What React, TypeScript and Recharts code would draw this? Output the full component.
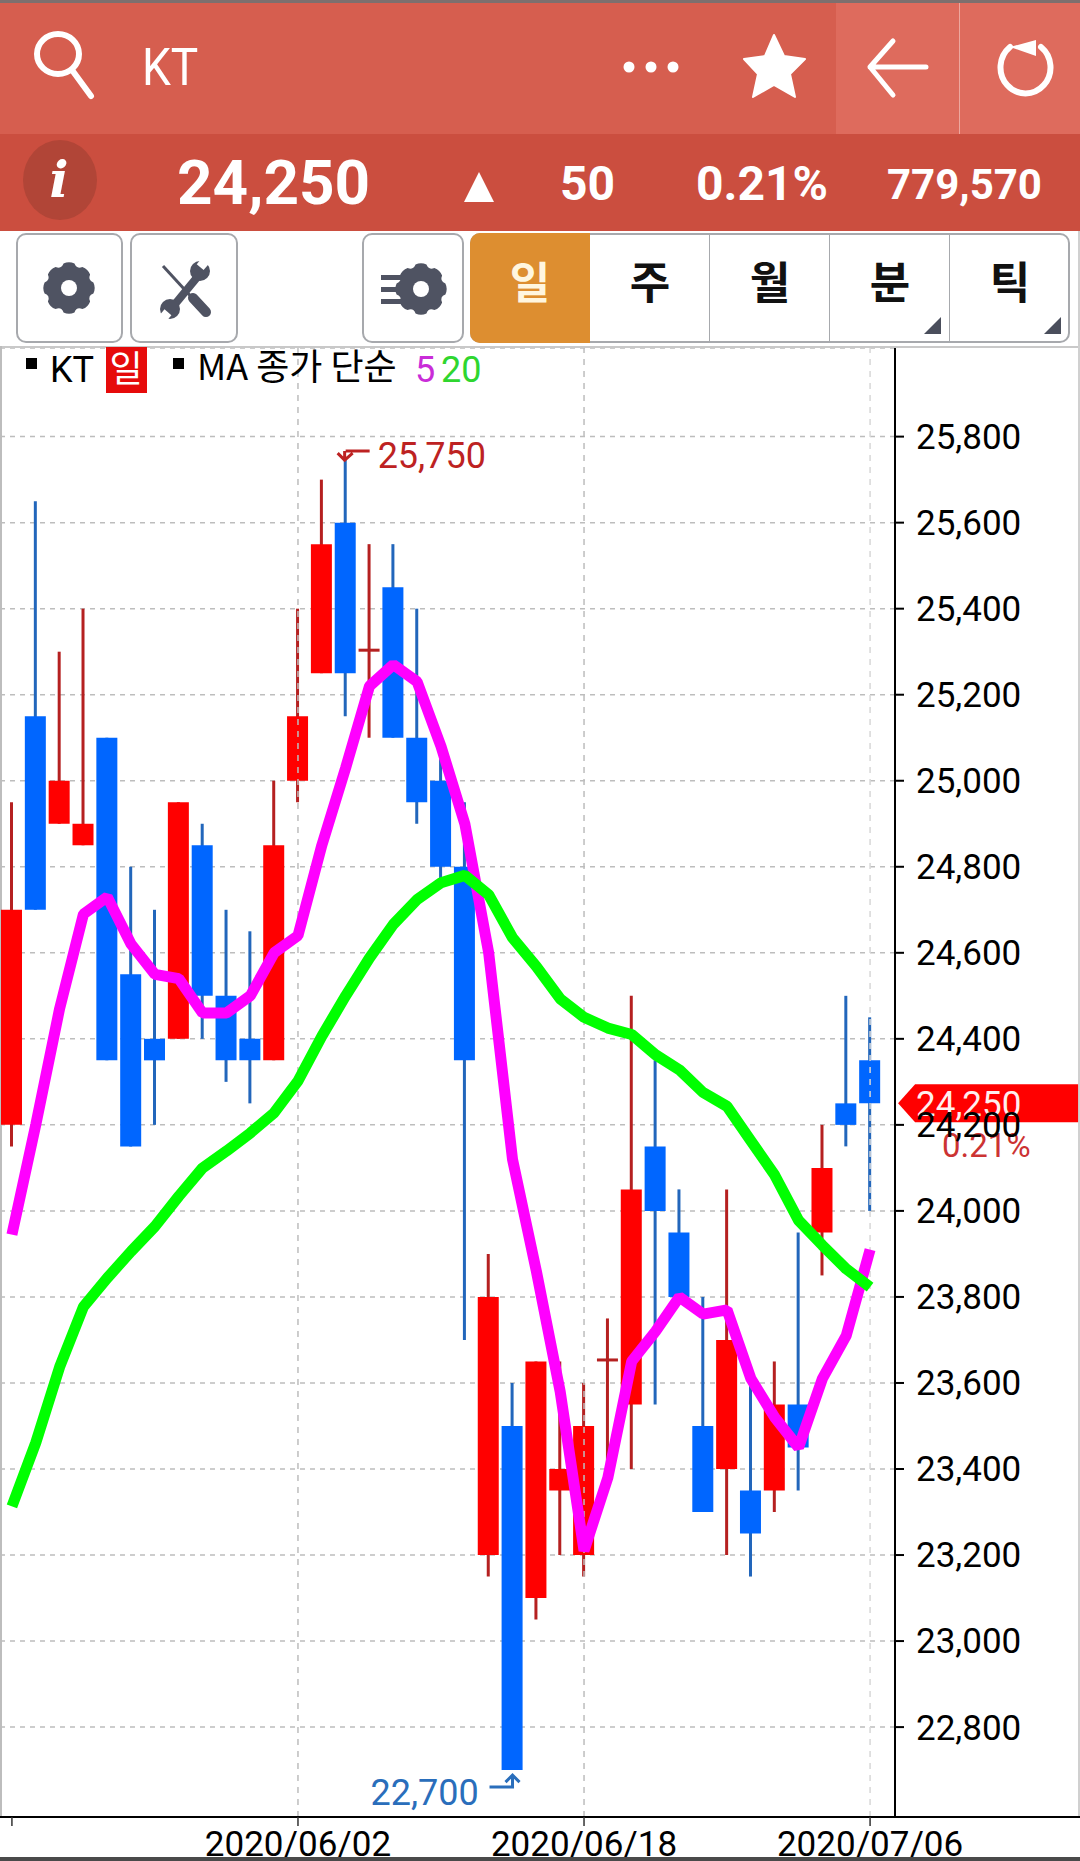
import React from 'react';
import { ComposedChart, Bar, Line, XAxis, YAxis, CartesianGrid, Cell, ReferenceLine, ReferenceDot } from 'recharts';

const dates = [
    '2020/05/15', '2020/05/18', '2020/05/19', '2020/05/20', '2020/05/21', '2020/05/22', '2020/05/25', '2020/05/26',
    '2020/05/27', '2020/05/28', '2020/05/29', '2020/06/01', '2020/06/02', '2020/06/03', '2020/06/04', '2020/06/05',
    '2020/06/08', '2020/06/09', '2020/06/10', '2020/06/11', '2020/06/12', '2020/06/15', '2020/06/16', '2020/06/17',
    '2020/06/18', '2020/06/19', '2020/06/22', '2020/06/23', '2020/06/24', '2020/06/25', '2020/06/26', '2020/06/29',
    '2020/06/30', '2020/07/01', '2020/07/02', '2020/07/03', '2020/07/06',
];
const opens = [
    24200, 25150, 24900, 24850, 25100, 24550, 24400, 24400, 24850, 24500, 24400, 24350, 25000, 25250, 25600, 25300, 25450,
    25100, 25000, 24800, 23200, 23500, 23100, 23350, 23200, 23650, 23550, 24150, 23950, 23500, 23400, 23350, 23350, 23550,
    23950, 24250, 24350,
];
const closes = [
    24700, 24700, 25000, 24900, 24350, 24150, 24350, 24950, 24500, 24350, 24350, 24850, 25150, 25550, 25250, 25300, 25100,
    24950, 24800, 24350, 23800, 22700, 23650, 23400, 23500, 23650, 24050, 24000, 23800, 23300, 23700, 23250, 23550, 23450,
    24100, 24200, 24250,
];
const highs = [
    24950, 25650, 25300, 25400, 25100, 24800, 24700, 24950, 24900, 24700, 24650, 25000, 25400, 25700, 25750, 25550, 25550,
    25400, 25050, 24950, 23900, 23600, 23650, 23650, 23600, 23750, 24500, 24350, 24050, 23800, 24050, 23600, 23650, 23950,
    24200, 24500, 24450,
];
const lows = [
    24150, 24700, 24900, 24850, 24350, 24150, 24200, 24400, 24400, 24300, 24250, 24350, 24950, 25250, 25150, 25100, 25100,
    24900, 24750, 23700, 23150, 22700, 23050, 23200, 23150, 23350, 23400, 23550, 23800, 23300, 23200, 23150, 23300, 23350,
    23850, 24150, 24000,
];
const ma5 = [
    23945, 24200, 24470, 24690, 24730, 24620, 24550, 24540, 24460, 24460, 24500, 24600, 24640, 24850, 25030, 25220, 25270,
    25230, 25080, 24900, 24600, 24120, 23860, 23580, 23210, 23380, 23650, 23720, 23800, 23760, 23770, 23610, 23520, 23450,
    23610, 23710, 23910,
];
const ma20 = [
    23313, 23461, 23637, 23777, 23844, 23906, 23964, 24034, 24100, 24139, 24181, 24228, 24302, 24406, 24500, 24588, 24666,
    24724, 24763, 24780, 24735, 24635, 24568, 24493, 24450, 24425, 24410, 24363, 24328, 24275, 24243, 24163, 24083, 23978,
    23920, 23865, 23823,
];

const priceTicks = [25800, 25600, 25400, 25200, 25000, 24800, 24600, 24400, 24200, 24000, 23800, 23600, 23400, 23200, 23000, 22800];
const firstDate = '2020/05/15';
const labelledDates = ['2020/06/02', '2020/06/18', '2020/07/06'];
const priceDomain = [22591, 26006];

const HIGH_PRICE = 25750;
const LOW_PRICE = 22700;
const LAST_PRICE = 24250;

const chartData = dates.map((date, i) => ({
    date,
    body: [opens[i], closes[i]],
    wick: [lows[i], highs[i]],
    ma5: ma5[i],
    ma20: ma20[i],
    up: closes[i] >= opens[i],
}));

const SANS = 'Roboto, "Noto Sans CJK KR", sans-serif';
const KR = '"Noto Sans CJK KR", Roboto, sans-serif';

function box(left: number, top: number, width: number, height: number, style: React.CSSProperties = {}): React.CSSProperties {
    return { position: 'absolute', left, top, width, height, ...style };
}

function Txt({ x, y, size, color = '#fff', bold = false, font = SANS, children, center = false, sy = 1 }: any) {
    return (
        <div
            style={{
                position: 'absolute',
                left: x,
                top: y,
                fontFamily: font,
                fontSize: size,
                lineHeight: 1,
                color,
                whiteSpace: 'pre',
                fontWeight: bold ? 700 : 400,
                transform: `${center ? 'translateX(-50%) ' : ''}scaleY(${sy})`,
                transformOrigin: 'top left',
            }}
        >
            {children}
        </div>
    );
}

function gearPath(cx: number, cy: number, r: number) {
    // scalloped outer edge with 8 lobes
    let d = '';
    for (let i = 0; i < 8; i++) {
        const a = (i * Math.PI) / 4 - Math.PI / 2;
        const b = a + Math.PI / 8;
        const c = a + Math.PI / 4;
        const ax = cx + r * Math.cos(a - 0.22);
        const ay = cy + r * Math.sin(a - 0.22);
        const tx = cx + r * 1.08 * Math.cos(a);
        const ty = cy + r * 1.08 * Math.sin(a);
        const ex = cx + r * Math.cos(a + 0.22);
        const ey = cy + r * Math.sin(a + 0.22);
        const vx = cx + r * 0.8 * Math.cos(b);
        const vy = cy + r * 0.8 * Math.sin(b);
        const nx = cx + r * Math.cos(c - 0.22);
        const ny = cy + r * Math.sin(c - 0.22);
        d += `${i === 0 ? 'M' : 'L'}${ax} ${ay} Q${tx} ${ty} ${ex} ${ey} Q${vx} ${vy} ${nx} ${ny} `;
    }
    return d + 'Z';
}

function Header() {
    return (
        <>
            <div style={box(0, 0, 1080, 3, { background: '#7d6f6e' })} />
            <div style={box(0, 3, 1080, 131, { background: '#d65e4f' })} />
            <div style={box(836, 3, 244, 131, { background: '#de6b5d' })} />
            <div style={box(959, 3, 1, 131, { background: '#eda79e' })} />
            <div style={box(0, 134, 1080, 97, { background: '#cb4e3f' })} />
            <svg width={1080} height={231} style={box(0, 0, 1080, 231)}>
                <ellipse cx={58} cy={54} rx={21} ry={20} fill="none" stroke="#fff" strokeWidth={6} />
                <line x1={72} y1={70} x2={91} y2={96} stroke="#fff" strokeWidth={6} strokeLinecap="round" />
                <circle cx={629} cy={67} r={5.5} fill="#fff" />
                <circle cx={651} cy={67} r={5.5} fill="#fff" />
                <circle cx={673} cy={67} r={5.5} fill="#fff" />
                <polygon
                    points="774,35 784,56 805,59 790,74 795,97 774,85 753,97 758,74 744,59 765,56"
                    fill="#fff"
                    stroke="#fff"
                    strokeWidth={2}
                    strokeLinejoin="round"
                />
                <path d="M893 41 L870 67 L893 95 M870 67 L926 67" fill="none" stroke="#fff" strokeWidth={5} strokeLinecap="round" strokeLinejoin="round" />
                <path d="M1010 47 A25 26 0 1 0 1041 47" fill="none" stroke="#fff" strokeWidth={6} strokeLinecap="round" />
                <path d="M1010 47 L1036 40 L1036 56 Z" fill="#fff" />
                <ellipse cx={60} cy={180} rx={37} ry={40} fill="#b14537" />
                <polygon points="464,202 494,202 479,172" fill="#fff" />
            </svg>
            <Txt x={142} y={41} size={46} sy={1.12}>KT</Txt>
            <Txt x={59} y={155} size={50} font='"DejaVu Serif", serif' center><i style={{ fontWeight: 700 }}>i</i></Txt>
            <Txt x={177} y={152} size={62} bold>24,250</Txt>
            <Txt x={560} y={160} size={48} bold>50</Txt>
            <Txt x={696} y={160} size={48} bold>0.21%</Txt>
            <Txt x={887} y={164} size={42} bold>779,570</Txt>
        </>
    );
}

function Toolbar() {
    const btnBorder = '2px solid #a7a9ad';
    const tabs = ['일', '주', '월', '분', '틱'];
    const centers = [530, 650, 770, 890, 1010];
    return (
        <>
            <div style={box(16, 233, 107, 110, { border: btnBorder, borderRadius: 10, boxSizing: 'border-box' })} />
            <div style={box(130, 233, 108, 110, { border: btnBorder, borderRadius: 10, boxSizing: 'border-box' })} />
            <div style={box(362, 233, 102, 110, { border: btnBorder, borderRadius: 10, boxSizing: 'border-box' })} />
            <div style={box(470, 233, 600, 110, { border: btnBorder, borderRadius: 10, boxSizing: 'border-box' })} />
            <div style={box(470, 233, 120, 110, { background: '#dd8e30', borderRadius: '10px 0 0 10px' })} />
            {[709, 829, 949].map((x) => (
                <div key={x} style={box(x, 233, 1, 110, { background: '#a7a9ad' })} />
            ))}
            <svg width={1080} height={350} style={box(0, 0, 1080, 350)}>
                <path d={gearPath(69, 288, 25)} fill="#4f5362" />
                <circle cx={69} cy={288} r={8} fill="#fff" />
                <path d={gearPath(421, 289, 25)} fill="#4f5362" />
                <circle cx={421} cy={289} r={8} fill="#fff" />
                <rect x={381} y={275} width={21} height={5} fill="#4f5362" />
                <rect x={381} y={287} width={17} height={5} fill="#4f5362" />
                <rect x={381} y={299} width={21} height={5} fill="#4f5362" />
                <line x1={163} y1={266} x2={196} y2={302} stroke="#4f5362" strokeWidth={3} />
                <line x1={193} y1={298} x2={206} y2={312} stroke="#4f5362" strokeWidth={10} strokeLinecap="round" />
                <line x1={171} y1={309} x2={199} y2={275} stroke="#4f5362" strokeWidth={8} />
                <circle cx={200} cy={271} r={10} fill="#4f5362" />
                <circle cx={170} cy={309} r={10} fill="#4f5362" />
                <rect x={199} y={259} width={9} height={9} fill="#fff" transform="rotate(40 203 263)" />
                <rect x={161} y={311} width={9} height={9} fill="#fff" transform="rotate(40 165 315)" />
                <polygon points="924,334 941,334 941,317" fill="#4a4e5c" />
                <polygon points="1044,334 1061,334 1061,317" fill="#4a4e5c" />
            </svg>
            {tabs.map((t, i) => (
                <Txt key={t} x={centers[i]} y={258} size={44} bold font={KR} center color={i === 0 ? '#fff6df' : '#111'}>
                    {t}
                </Txt>
            ))}
        </>
    );
}

function ChartLegend() {
    return (
        <>
            <div style={box(26, 358, 11, 11, { background: '#000' })} />
            <Txt x={50} y={352} size={36} color="#000">KT</Txt>
            <div style={box(106, 347, 41, 46, { background: '#e60b0b' })} />
            <Txt x={126} y={348} size={36} font={KR} center color="#fff">일</Txt>
            <div style={box(173, 358, 11, 11, { background: '#000' })} />
            <Txt x={197} y={346} size={36} font={KR} color="#000">MA 종가 단순</Txt>
            <Txt x={415} y={352} size={36} color="#c92cd8">5</Txt>
            <Txt x={441} y={352} size={36} color="#2fd62f">20</Txt>
        </>
    );
}

function HighMark({ cx, cy }: any) {
    return (
        <g>
            <path
                d={`M${cx + 24} ${cy - 7} L${cx} ${cy - 7} M${cx - 8} ${cy - 5} L${cx - 1} ${cy + 2} L${cx + 7} ${cy - 5} M${cx - 1} ${cy + 2} L${cx - 1} ${cy - 7}`}
                fill="none"
                stroke="#bd2222"
                strokeWidth={3}
            />
            <text x={cx + 32} y={cy + 10} fontFamily={SANS} fontSize={36} fill="#bd2222">25,750</text>
        </g>
    );
}

function LowMark({ cx, cy }: any) {
    return (
        <g>
            <path
                d={`M${cx - 23} ${cy + 17} L${cx} ${cy + 17} L${cx} ${cy + 5} M${cx - 7} ${cy + 12} L${cx} ${cy + 5} L${cx + 7} ${cy + 12}`}
                fill="none"
                stroke="#2a6ebb"
                strokeWidth={3}
            />
            <text x={cx - 142} y={cy + 35} fontFamily={SANS} fontSize={36} fill="#2a6ebb">22,700</text>
        </g>
    );
}

function LastPriceTag({ cx, cy }: any) {
    const ox = cx + 28;
    return (
        <g>
            <polygon points={`${ox},${cy} ${ox + 17},${cy - 19} ${ox + 180},${cy - 19} ${ox + 180},${cy + 19} ${ox + 17},${cy + 19}`} fill="#ff0000" />
            <text x={ox + 18} y={cy + 13} fontFamily={SANS} fontSize={35} fill="#ffeeee">24,250</text>
            <text x={ox + 44} y={cy + 54} fontFamily={SANS} fontSize={33} fill="#cc3333">0.21%</text>
        </g>
    );
}

export default function App() {
    return (
        <div style={{ position: 'absolute', left: 0, top: 0, width: 1080, height: 1861, overflow: 'hidden', background: '#fff' }}>
            <Header />
            <Toolbar />
            <div style={box(0, 346, 1080, 2, { background: '#c9c9c9' })} />
            <div style={box(0, 346, 2, 1471, { background: '#bdbdbd' })} />
            <div style={box(1078, 231, 2, 1586, { background: '#d0d0d0' })} />
            <div style={box(0, 1816, 1080, 2, { background: '#000' })} />
            <div style={box(0, 1857, 1080, 4, { background: '#4a4a4a' })} />

            <div style={box(0, 348, 1080, 1509)}>
                <ComposedChart
                    width={1080}
                    height={1509}
                    data={chartData}
                    margin={{ top: 0, right: 0, bottom: 0, left: 0 }}
                >
                    <CartesianGrid horizontal vertical={false} stroke="#bdbdbd" strokeDasharray="5 5" strokeWidth={1.5} />
                    <XAxis
                        dataKey="date"
                        ticks={[firstDate, ...labelledDates]}
                        interval={0}
                        height={40}
                        padding={{ left: 0, right: 13 }}
                        tickSize={9}
                        tickMargin={5}
                        axisLine={{ stroke: '#000', strokeWidth: 2 }}
                        tickLine={{ stroke: '#333', strokeWidth: 1.5 }}
                        tickFormatter={(d: string) => (d === firstDate ? '' : d)}
                        tick={{ fill: '#000', fontSize: 35, fontFamily: SANS }}
                    />
                    <XAxis xAxisId="wick" dataKey="date" hide padding={{ left: 0, right: 13 }} />
                    <YAxis
                        orientation="right"
                        width={185}
                        domain={priceDomain}
                        ticks={priceTicks}
                        interval={0}
                        tickSize={9}
                        tickMargin={12}
                        axisLine={{ stroke: '#000', strokeWidth: 2 }}
                        tickLine={{ stroke: '#000', strokeWidth: 2 }}
                        tickFormatter={(v: number) => v.toLocaleString('en-US')}
                        tick={{ fill: '#000', fontSize: 35, fontFamily: SANS }}
                    />
                    {labelledDates.map((d, i) => (
                        <ReferenceLine key={d} x={d} stroke={i === 2 ? '#d8d8d8' : '#bdbdbd'} strokeDasharray="6 6" strokeWidth={1.5} />
                    ))}
                    <Line dataKey="ma5" stroke="#ff00ff" strokeWidth={11} dot={false} type="linear" isAnimationActive={false} strokeLinejoin="bevel" />
                    <Line dataKey="ma20" stroke="#00ff00" strokeWidth={11} dot={false} type="linear" isAnimationActive={false} strokeLinejoin="bevel" />
                    <Bar xAxisId="wick" dataKey="wick" barSize={3} isAnimationActive={false}>
                        {chartData.map((d) => (
                            <Cell key={d.date} fill={d.up ? '#b52020' : '#2266bb'} />
                        ))}
                    </Bar>
                    <Bar dataKey="body" barSize={21} minPointSize={3} isAnimationActive={false}>
                        {chartData.map((d) => (
                            <Cell key={d.date} fill={d.up ? (d.body[0] === d.body[1] ? '#b52020' : '#ff0000') : '#0066ff'} />
                        ))}
                    </Bar>
                    <ReferenceDot x="2020/06/04" y={HIGH_PRICE} shape={HighMark} ifOverflow="visible" />
                    <ReferenceDot x="2020/06/15" y={LOW_PRICE} shape={LowMark} ifOverflow="visible" />
                    <ReferenceDot x="2020/07/06" y={LAST_PRICE} shape={LastPriceTag} ifOverflow="visible" />
                </ComposedChart>
            </div>
            <ChartLegend />
        </div>
    );
}
